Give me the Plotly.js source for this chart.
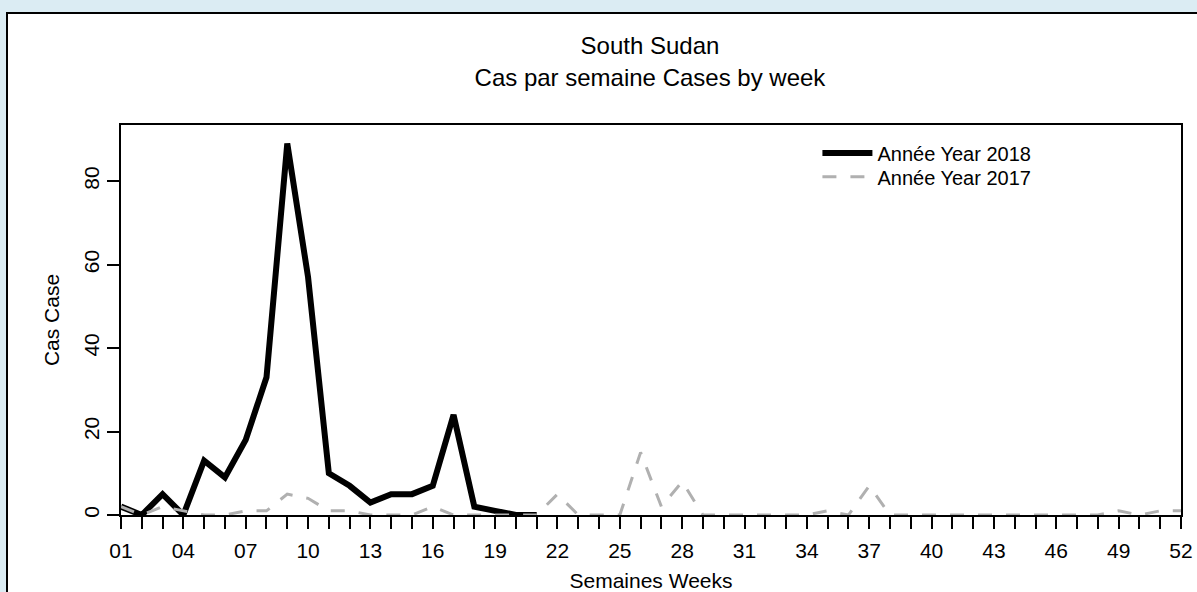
<!DOCTYPE html>
<html>
<head>
<meta charset="utf-8">
<script src="https://cdn.plot.ly/plotly-3.0.1.min.js"></script>
<style>
  html, body { margin:0; padding:0; background:#dbecf3; width:1197px; height:592px; overflow:hidden; }
  #panel { position:absolute; left:6px; top:12px; width:1200px; height:600px; background:#ffffff; border:2px solid #000; }
  #chart { position:absolute; left:0; top:0; width:1197px; height:592px; }
</style>
</head>
<body>
<div id="panel"></div>
<div id="chart"></div>
<script>
const weeks = [1,2,3,4,5,6,7,8,9,10,11,12,13,14,15,16,17,18,19,20,21,22,23,24,25,26,
               27,28,29,30,31,32,33,34,35,36,37,38,39,40,41,42,43,44,45,46,47,48,49,50,51,52];
const weekLabels = ['01','','','04','','','07','','','10','','','13','','','16','','','19','','','22','','','25','',
                    '','28','','','31','','','34','','','37','','','40','','','43','','','46','','','49','','','52'];
const weeks2018 = [1,2,3,4,5,6,7,8,9,10,11,12,13,14,15,16,17,18,19,20,21];
const cases2018 = [2,0,5,0,13,9,18,33,89,57,10,7,3,5,5,7,24,2,1,0,0];
const cases2017 = [2,0,2,1,0,0,1,1,5,4,1,1,0,0,0,2,0,0,0,0,0,5,0,0,0,15,
                   2,8,0,0,0,0,0,0,1,0,7,0,0,0,0,0,0,0,0,0,0,0,1,0,1,1];
const yTicks = [0,20,40,60,80];

const FONT = 'Liberation Sans, Arial, sans-serif';

const traces = [
  {x: weeks2018, y: cases2018, name: 'Année Year 2018', type: 'scatter', mode: 'lines',
   line: {color: '#000000', width: 6}, legend: 'legend'},
  {x: weeks, y: cases2017, name: 'Année Year 2017', type: 'scatter', mode: 'lines',
   line: {color: '#b0b0b0', width: 3, dash: '14px,14px'}, legend: 'legend2'}
];

const legendCommon = {xanchor: 'left', yanchor: 'middle', bgcolor: 'rgba(0,0,0,0)', itemwidth: 50,
                      font: {size: 20, family: FONT, color: '#000'}};

const layout = {
  width: 1197, height: 592,
  paper_bgcolor: 'rgba(0,0,0,0)', plot_bgcolor: '#ffffff',
  margin: {l: 121, r: 16, t: 125, b: 77},
  font: {family: FONT, color: '#000', size: 20},
  title: {text: 'South Sudan<br>Cas par semaine Cases by week', x: 0.543, xanchor: 'center',
          y: 0.908, yanchor: 'top', font: {size: 24, family: FONT, color: '#000'}},
  showlegend: true,
  legend: Object.assign({x: 0.657, y: 0.928}, legendCommon),
  legend2: Object.assign({x: 0.657, y: 0.867}, legendCommon),
  xaxis: {range: [1, 52], tickmode: 'array', tickvals: weeks, ticktext: weekLabels,
          ticks: 'outside', ticklen: 12, tickwidth: 2, tickcolor: '#000',
          showline: true, linecolor: '#000', linewidth: 2, mirror: true,
          showgrid: false, zeroline: false, tickangle: 0, ticklabelstandoff: 4,
          tickfont: {size: 21, family: FONT, color: '#000'},
          title: {text: 'Semaines Weeks', font: {size: 21, family: FONT, color: '#000'}, standoff: 12}},
  yaxis: {range: [0, 93.45], tickmode: 'array', tickvals: yTicks, ticktext: yTicks.map(String),
          ticks: 'outside', ticklen: 12, tickwidth: 2, tickcolor: '#000',
          showline: true, linecolor: '#000', linewidth: 2, mirror: true,
          showgrid: false, zeroline: false, tickangle: -90,
          tickfont: {size: 21, family: FONT, color: '#000'},
          title: {text: 'Cas Case', font: {size: 21, family: FONT, color: '#000'}, standoff: 14}}
};

Plotly.newPlot('chart', traces, layout, {displayModeBar: false, staticPlot: true});
</script>
</body>
</html>
